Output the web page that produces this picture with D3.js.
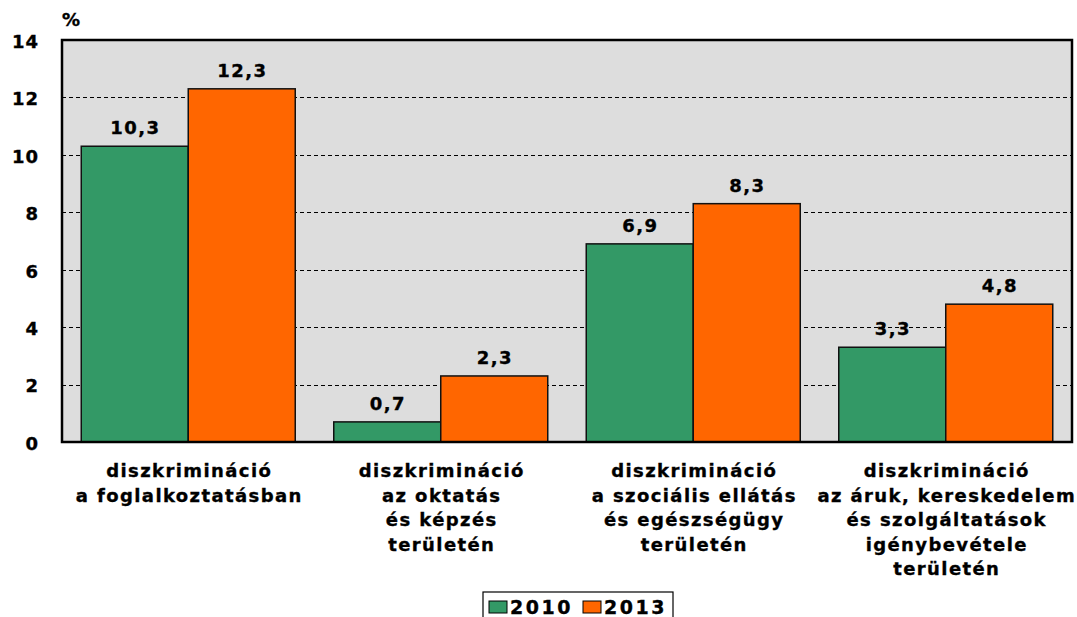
<!DOCTYPE html>
<html>
<head>
<meta charset="utf-8">
<script src="https://cdn.jsdelivr.net/npm/d3@7"></script>
<style>
  body { margin: 0; background: #fff; }
  svg text { font-family: "DejaVu Sans", Verdana, sans-serif; font-weight: bold; fill: #000; stroke: #000; stroke-width: 0.35px; }
</style>
</head>
<body>
<div id="chart"></div>
<script>
const categories = [
  ["diszkrimináció", "a foglalkoztatásban"],
  ["diszkrimináció", "az oktatás", "és képzés", "területén"],
  ["diszkrimináció", "a szociális ellátás", "és egészségügy", "területén"],
  ["diszkrimináció", "az áruk, kereskedelem", "és szolgáltatások", "igénybevétele", "területén"]
];
const seriesNames = ["2010", "2013"];
const values2010 = [10.3, 0.7, 6.9, 3.3];
const values2013 = [12.3, 2.3, 8.3, 4.8];
const yTicks = [0, 2, 4, 6, 8, 10, 12, 14];
const COLORS = { "2010": "#339966", "2013": "#FF6600" };

const W = 1077, H = 617;
const M = { top: 40, left: 62 };
const innerW = 1072 - M.left, innerH = 442 - M.top;

const svg = d3.select("#chart").append("svg")
  .attr("width", W).attr("height", H);

const g = svg.append("g").attr("transform", `translate(${M.left},${M.top})`);

const x0 = d3.scaleBand().domain(d3.range(categories.length)).range([0, innerW])
  .paddingInner(0.1525).paddingOuter(0.07625);
const x1 = d3.scaleBand().domain(seriesNames).range([0, x0.bandwidth()]);
const y = d3.scaleLinear().domain([0, 14]).range([innerH, 0]);

g.append("rect").attr("width", innerW).attr("height", innerH).attr("fill", "#DDDDDD");

yTicks.filter(t => t > 0 && t < 14).forEach(t => {
  g.append("line")
    .attr("x1", 0).attr("x2", innerW)
    .attr("y1", Math.round(y(t)) + 0.5).attr("y2", Math.round(y(t)) + 0.5)
    .attr("stroke", "#000").attr("stroke-width", 1)
    .attr("stroke-dasharray", "4,3");
});

const data = categories.map((c, i) => ({ i, vals: [
  { key: "2010", v: values2010[i] },
  { key: "2013", v: values2013[i] }
]}));

const groups = g.selectAll(".grp").data(data).join("g")
  .attr("transform", d => `translate(${x0(d.i)},0)`);

groups.selectAll("rect").data(d => d.vals).join("rect")
  .attr("x", d => x1(d.key))
  .attr("y", d => y(d.v))
  .attr("width", x1.bandwidth())
  .attr("height", d => innerH - y(d.v))
  .attr("fill", d => COLORS[d.key])
  .attr("stroke", "#111").attr("stroke-width", 1.5);

groups.selectAll("text.val").data(d => d.vals).join("text")
  .attr("class", "val")
  .attr("x", d => x1(d.key) + x1.bandwidth() / 2 + 0.7)
  .attr("y", d => y(d.v) - 12)
  .attr("text-anchor", "middle")
  .attr("font-size", "18px")
  .attr("letter-spacing", "1.5px")
  .text(d => d3.format(".1f")(d.v).replace(".", ","));

// border
g.append("rect").attr("width", innerW).attr("height", innerH)
  .attr("fill", "none").attr("stroke", "#000").attr("stroke-width", 2.5);

// y axis labels
yTicks.forEach(t => {
  g.append("text")
    .attr("x", -23).attr("y", y(t) + 1)
    .attr("dy", "0.38em")
    .attr("text-anchor", "end")
    .attr("font-size", "18px")
    .attr("letter-spacing", "1px")
    .text(t);
});
svg.append("text").attr("x", 62).attr("y", 26).attr("font-size", "18px").text("%");

// category labels
categories.forEach((lines, i) => {
  const t = g.append("text")
    .attr("text-anchor", "middle")
    .attr("font-size", "18px")
    .attr("letter-spacing", "1.4px")
    .attr("transform", `translate(${x0(i) + x0.bandwidth() / 2 + 1},${innerH + 35})`);
  lines.forEach((l, k) => t.append("tspan").attr("x", 0).attr("y", k * 24.5).text(l));
});

// legend
const lg = svg.append("g").attr("transform", "translate(483,592)");
lg.append("rect").attr("width", 190).attr("height", 32).attr("fill", "#fff").attr("stroke", "#000").attr("stroke-width", 1.2);
seriesNames.forEach((s, k) => {
  const off = 6 + k * 94;
  lg.append("rect").attr("x", off).attr("y", 9).attr("width", 18).attr("height", 12)
    .attr("fill", COLORS[s]).attr("stroke", "#000").attr("stroke-width", 1);
  lg.append("text").attr("x", off + 21).attr("y", 22).attr("font-size", "19px")
    .attr("letter-spacing", "2.5px").text(s);
});
</script>
</body>
</html>
